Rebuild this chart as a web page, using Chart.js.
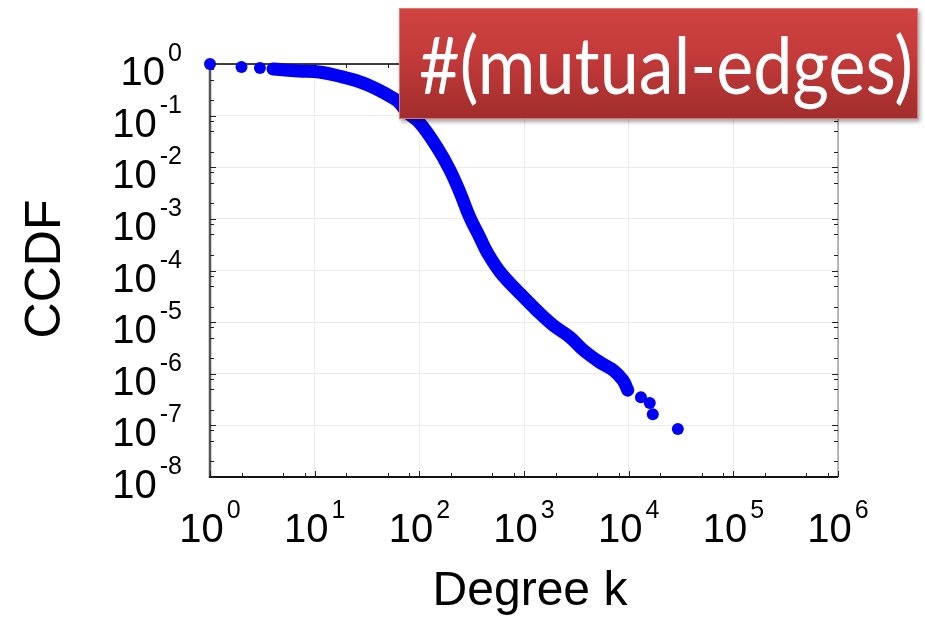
<!DOCTYPE html>
<html>
<head>
<meta charset="utf-8">
<script src="https://cdn.jsdelivr.net/npm/chart.js@4/dist/chart.umd.min.js"></script>
<style>
  html, body { margin: 0; padding: 0; background: #ffffff; }
  #wrap { position: relative; width: 925px; height: 620px; overflow: hidden; }
  #c { position: absolute; left: 0; top: 0; }
  #badge {
    position: absolute; left: 399px; top: 8px; width: 517px; height: 109px;
    background: linear-gradient(to bottom, #cf4341 0%, #c23a39 45%, #a12d2c 100%);
    border: 1px solid #dd7774;
    box-shadow: 2px 3px 4px rgba(0,0,0,0.35);
  }
  #badgeText {
    position: absolute; left: 19px; top: 6px;
    font-family: Lato, "Open Sans", sans-serif; font-size: 80px; color: #ffffff;
    white-space: nowrap; transform-origin: 0 0; line-height: 1.2;
  }
</style>
</head>
<body>
<div id="wrap">
  <canvas id="c" width="925" height="620"></canvas>
  <div id="badge"><span id="badgeText">#(mutual-edges)</span></div>
</div>
<script>
// ---- data ----
const curveDegree = [4, 7, 11, 17, 27, 41, 56, 65, 76, 101, 147, 196, 245, 303, 378, 442, 600, 915, 1320, 1900, 2750, 3670, 5300, 7100, 8800, 9800];
const curveCcdf   = [0.80, 0.73, 0.70, 0.585, 0.45, 0.313, 0.22, 0.175, 0.117, 0.072, 0.0246, 0.0088, 0.0032, 0.00108, 4.4e-4, 2.3e-4, 9e-5, 3.6e-5, 1.7e-5, 8.7e-6, 5.1e-6, 2.9e-6, 1.67e-6, 1.17e-6, 7.5e-7, 4.8e-7];
const dotDegree = [1, 2, 3, 13100, 15900, 17000, 29500];
const dotCcdf   = [1, 0.875, 0.84, 3.5e-7, 2.7e-7, 1.65e-7, 8.5e-8];
const xExponents = [0, 1, 2, 3, 4, 5, 6];
const yExponents = [0, -1, -2, -3, -4, -5, -6, -7, -8];
const xTitle = "Degree k";
const yTitle = "CCDF";
const badgeLabel = "#(mutual-edges)";

const BLUE = "#0000f5";
const FONT = "'Liberation Sans', Arial, sans-serif";

function pts(xs, ys) { return xs.map((x, i) => ({ x: x, y: ys[i] })); }
function decadeTicks(exps) { return exps.map(e => ({ value: Math.pow(10, e) })); }

const decor = {
  id: 'decor',
  beforeDatasetsDraw(chart) {
    const ctx = chart.ctx, a = chart.chartArea;
    const xs = chart.scales.x, ys = chart.scales.y;
    ctx.save();
    // frame
    ctx.strokeStyle = '#000'; ctx.lineWidth = 1.5;
    ctx.beginPath(); ctx.moveTo(a.left, a.top); ctx.lineTo(a.right, a.top); ctx.stroke();
    ctx.strokeStyle = '#777'; ctx.lineWidth = 1;
    ctx.beginPath(); ctx.moveTo(a.right, a.top); ctx.lineTo(a.right, a.bottom); ctx.stroke();
    ctx.strokeStyle = '#555'; ctx.lineWidth = 2.5;
    ctx.beginPath(); ctx.moveTo(a.left, a.top); ctx.lineTo(a.left, a.bottom + 1); ctx.stroke();
    ctx.strokeStyle = '#111'; ctx.lineWidth = 2;
    ctx.beginPath(); ctx.moveTo(a.left - 1, a.bottom); ctx.lineTo(a.right, a.bottom); ctx.stroke();
    // inward ticks
    ctx.lineWidth = 1; ctx.strokeStyle = '#222';
    const mult = [1, 2, 5, 8];
    for (let e = xExponents[0]; e < xExponents[xExponents.length - 1] + 1; e++) {
      mult.forEach(m => {
        const v = m * Math.pow(10, e);
        if (v > 1e6) return;
        const p = Math.round(xs.getPixelForValue(v)) + 0.5;
        const len = m === 1 ? 6 : 4;
        ctx.beginPath(); ctx.moveTo(p, a.bottom); ctx.lineTo(p, a.bottom - len); ctx.stroke();
        ctx.beginPath(); ctx.moveTo(p, a.top); ctx.lineTo(p, a.top + len); ctx.stroke();
      });
    }
    for (let e = -8; e <= 0; e++) {
      mult.forEach(m => {
        const v = m * Math.pow(10, e);
        if (v > 1) return;
        const p = Math.round(ys.getPixelForValue(v)) + 0.5;
        const len = m === 1 ? 6 : 4;
        ctx.beginPath(); ctx.moveTo(a.left, p); ctx.lineTo(a.left + len, p); ctx.stroke();
        ctx.beginPath(); ctx.moveTo(a.right, p); ctx.lineTo(a.right - len, p); ctx.stroke();
      });
    }
    ctx.restore();
  },
  afterDraw(chart) {
    const ctx = chart.ctx, a = chart.chartArea;
    const xs = chart.scales.x, ys = chart.scales.y;
    ctx.save();
    ctx.fillStyle = '#000';
    ctx.textBaseline = 'alphabetic';
    const big = '40px ' + FONT, small = '25px ' + FONT;
    // x tick labels
    xExponents.forEach(e => {
      const px = xs.getPixelForValue(Math.pow(10, e));
      ctx.font = big; const w1 = ctx.measureText('10').width;
      ctx.font = small; const w2 = ctx.measureText(String(e)).width;
      const gap = 3;
      const left = px - (w1 + gap + w2) / 2;
      ctx.font = big; ctx.textAlign = 'left'; ctx.fillText('10', left, a.bottom + 65);
      ctx.font = small; ctx.fillText(String(e), left + w1 + gap, a.bottom + 41);
    });
    // y tick labels
    yExponents.forEach(e => {
      const py = ys.getPixelForValue(Math.pow(10, e));
      const right = a.left - 28;
      const es = String(e);
      ctx.font = small; const w2 = ctx.measureText(es).width;
      ctx.textAlign = 'right';
      ctx.fillText(es, right, py - 3);
      ctx.font = big;
      ctx.fillText('10', right - w2 - 3, py + 21);
    });
    // axis titles
    ctx.font = '48px ' + FONT;
    ctx.textAlign = 'center';
    ctx.fillText(xTitle, (a.left + a.right) / 2 + 6, 605);
    ctx.save();
    ctx.translate(60, 269);
    ctx.rotate(-Math.PI / 2);
    ctx.font = '50px ' + FONT;
    ctx.fillText(yTitle, 0, 0);
    ctx.restore();
    ctx.restore();
  }
};

const chart = new Chart(document.getElementById('c'), {
  type: 'scatter',
  data: {
    datasets: [
      {
        label: 'CCDF band',
        data: pts(curveDegree, curveCcdf),
        showLine: true,
        borderColor: BLUE,
        backgroundColor: BLUE,
        borderWidth: 13,
        borderCapStyle: 'round',
        borderJoinStyle: 'round',
        tension: 0.4,
        pointRadius: 6,
        pointBorderWidth: 0,
        clip: false
      },
      {
        label: 'CCDF points',
        data: pts(dotDegree, dotCcdf),
        showLine: false,
        backgroundColor: BLUE,
        borderColor: BLUE,
        pointRadius: 6,
        pointBorderWidth: 0,
        clip: false
      }
    ]
  },
  options: {
    responsive: false,
    animation: false,
    devicePixelRatio: 1,
    layout: { padding: { left: 210, right: 87, top: 64, bottom: 143 } },
    plugins: { legend: { display: false }, tooltip: { enabled: false }, title: { display: false } },
    scales: {
      x: {
        type: 'logarithmic', min: 1, max: 1e6,
        afterBuildTicks: s => { s.ticks = decadeTicks(xExponents); },
        ticks: { display: false },
        grid: { color: '#ececec', lineWidth: 1, drawTicks: false },
        border: { display: false }
      },
      y: {
        type: 'logarithmic', min: 1e-8, max: 1,
        afterBuildTicks: s => { s.ticks = decadeTicks(yExponents); },
        ticks: { display: false },
        grid: { color: '#ececec', lineWidth: 1, drawTicks: false },
        border: { display: false }
      }
    }
  },
  plugins: [decor]
});

// badge text: fit to its box width
const bt = document.getElementById('badgeText');
bt.textContent = badgeLabel;
const target = 494;
const w = bt.getBoundingClientRect().width;
bt.style.transform = 'scaleX(' + (target / w) + ')';
</script>
</body>
</html>
